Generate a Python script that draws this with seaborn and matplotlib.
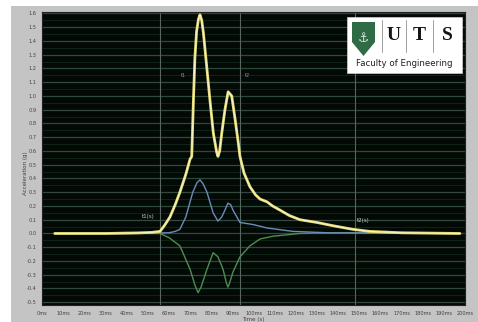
import numpy as np
import pandas as pd
import matplotlib
matplotlib.use("Agg")
import matplotlib.pyplot as plt
from matplotlib.patches import Rectangle, Polygon
import seaborn as sns

# values (time in ms, acceleration in g)
res_t = [6, 30, 45, 52, 55.8, 58, 60.5, 63, 65.2, 68, 70, 70.8, 71.6, 72.3, 73.1, 74, 74.7,
         75.5, 76.3, 77.9, 79.4, 81, 82.6, 83.2, 84, 85, 86.5, 88, 89.7, 91.3, 92.8, 93.6,
         95.5, 98.3, 101, 103.1, 106.4, 109, 112.5, 117, 122, 130, 138, 147, 155, 170, 197.6]
res_g = [0.0, 0.0, 0.004, 0.008, 0.015, 0.06, 0.12, 0.21, 0.30, 0.43, 0.54, 0.56, 0.97, 1.28,
         1.47, 1.56, 1.59, 1.55, 1.46, 1.21, 0.97, 0.73, 0.59, 0.56, 0.6, 0.73, 0.90, 1.03, 1.0,
         0.83, 0.66, 0.56, 0.44, 0.34, 0.28, 0.25, 0.23, 0.20, 0.17, 0.13, 0.10, 0.08, 0.055,
         0.03, 0.015, 0.005, 0.0]

blue_t = [6, 40, 60, 63, 65.2, 68, 71.3, 73.3, 74.7, 76.2, 78, 80.9, 83.2, 85, 86.5, 87.9,
          89.2, 90.3, 93.6, 99.8, 106.4, 118.7, 135, 197.6]
blue_g = [0.0, 0.0, 0.005, 0.015, 0.03, 0.12, 0.30, 0.37, 0.39, 0.36, 0.30, 0.15, 0.09, 0.12,
          0.17, 0.22, 0.21, 0.17, 0.08, 0.065, 0.04, 0.015, 0.005, 0.0]

green_t = [6, 40, 55.8, 60, 65.2, 70, 72.4, 73.8, 75.2, 78, 80.9, 83.2, 85.6, 87.2, 87.9,
           88.7, 90.3, 93.6, 98.3, 103.1, 109.2, 122, 140, 197.6]
green_g = [0.0, 0.0, 0.0, -0.03, -0.09, -0.26, -0.38, -0.43, -0.39, -0.26, -0.14, -0.17,
           -0.26, -0.36, -0.39, -0.36, -0.28, -0.17, -0.09, -0.04, -0.02, 0.0, 0.005, 0.0]

x_ticks = list(range(0, 201, 10))
x_labels = [f"{v}ms" for v in x_ticks]
y_ticks = [round(v * 0.1, 1) for v in range(-5, 17)]
y_labels = [f"{v:.1f}" for v in y_ticks]

cursor_t = [55.8, 93.6, 148]

sns.set_style("dark", {"axes.facecolor": "#030a05"})
plt.rcParams['font.family'] = ['DejaVu Sans']

fig = plt.figure(figsize=(4.78, 3.22), dpi=100)
fig.patch.set_facecolor("white")
fig.patches.append(Rectangle((11 / 478, 0), 1, 1 - 6 / 322, transform=fig.transFigure,
                             facecolor="#c4c4c4", edgecolor="none", zorder=-10))
ax = fig.add_axes([42 / 478, 1 - 305 / 322, 423 / 478, 293 / 322])
ax.set_facecolor("#030a05")

# horizontal grid, brighter major lines and dim minor lines
for i, v in enumerate(y_ticks):
    ax.axhline(v, color="#2b4a3a" if i % 2 else "#33483f", lw=0.9, zorder=1)
    ax.axhline(v + 0.05, color="#0f2418", lw=0.7, zorder=1)
for v in cursor_t:
    ax.axvline(v, color="#56665e", lw=0.8, zorder=1)

sns.lineplot(x=green_t, y=green_g, color="#4e8c52", lw=1.0, ax=ax, zorder=3)
sns.lineplot(x=blue_t, y=blue_g, color="#6a8cb8", lw=1.0, ax=ax, zorder=4)
sns.lineplot(x=res_t, y=res_g, color="#e6dc78", lw=2.0, ax=ax, zorder=5)
sns.lineplot(x=res_t, y=res_g, color="#fbf6d0", lw=0.6, ax=ax, zorder=6)

ax.set_xlim(0, 200)
ax.set_ylim(-0.52, 1.61)
ax.set_xticks(x_ticks)
ax.set_xticklabels(x_labels, fontsize=3.6, color="#404040")
ax.set_yticks(y_ticks)
ax.set_yticklabels(y_labels, fontsize=3.6, color="#404040")
ax.tick_params(length=2, pad=2, colors="#404040")
ax.set_xlabel("Time (s)", fontsize=4, color="#404040", labelpad=1)
ax.set_ylabel("Acceleration (g)", fontsize=4, color="#404040", labelpad=3)
ax.yaxis.set_label_coords(-0.032, 0.45)
for s in ax.spines.values():
    s.set_color("#202020")

ax.text(50, 0.11, "t1(s)", fontsize=4, color="#c8c8c8", ha="center")
ax.text(152, 0.08, "t2(s)", fontsize=4, color="#c8c8c8", ha="center")
ax.text(67, 1.14, "t1", fontsize=3.5, color="#8a90b0", ha="center")
ax.text(97, 1.14, "t2", fontsize=3.5, color="#8a90b0", ha="center")


# logo box, placed in pixel terms of the axes
def px(x, y):
    return ((x - 42) / 423, (305 - y) / 293)


bx, by = px(347, 73)
ax.add_patch(Rectangle((bx, by), 115 / 423, 56 / 293, transform=ax.transAxes,
                       facecolor="white", edgecolor="#d0d0d0", lw=0.5, zorder=8))
shield = [px(352, 22), px(375, 22), px(375, 42), px(363.5, 56), px(352, 42)]
ax.add_patch(Polygon(shield, closed=True, transform=ax.transAxes,
                     facecolor="#2f6b45", edgecolor="none", zorder=9))
ax.text(*px(363.5, 38), "\u2693", transform=ax.transAxes, fontsize=9, color="#d8e8dc",
        ha="center", va="center", zorder=10)
for x in [382, 406, 433]:
    x0, y0 = px(x, 52)
    x1, y1 = px(x, 20)
    ax.plot([x0, x1], [y0, y1], transform=ax.transAxes, color="#909090", lw=0.6, zorder=9)
for x, s in [(394, "U"), (419, "T"), (447, "S")]:
    ax.text(*px(x, 36), s, transform=ax.transAxes, fontsize=14, fontweight="bold",
            family="Liberation Serif", color="#151515", ha="center", va="center", zorder=10)
ax.text(*px(404, 63), "Faculty of Engineering", transform=ax.transAxes, fontsize=6.2,
        color="#202020", ha="center", va="center", zorder=10)

fig.savefig("out.png", dpi=100)
